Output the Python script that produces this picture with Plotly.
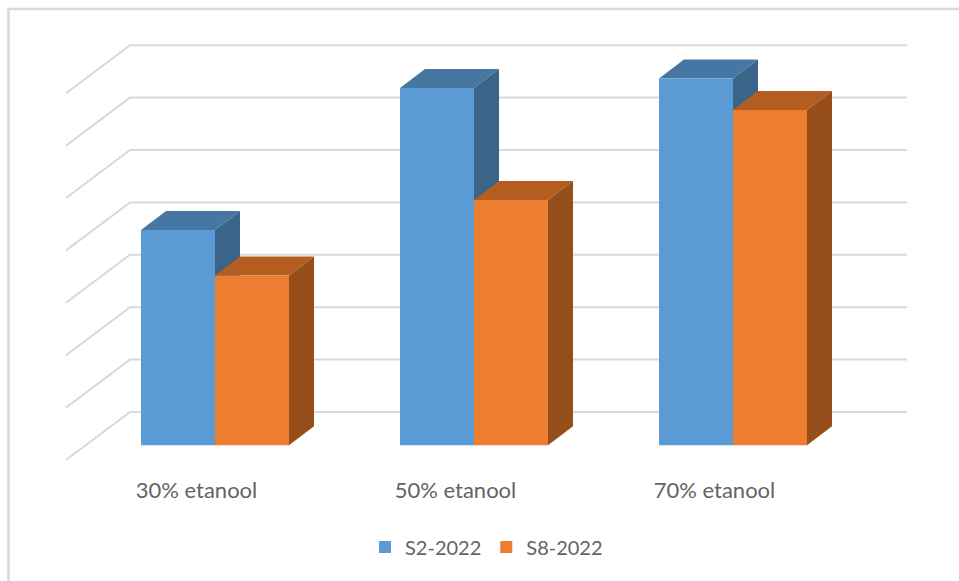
import plotly.graph_objects as go

# ---- data (value axis is hidden, units = gridline steps)
categories = ["30% etanool", "50% etanool", "70% etanool"]
series_names = ["S2-2022", "S8-2022"]
s2_values = [4.11, 6.82, 7.00]
s8_values = [3.24, 4.68, 6.40]
grid_levels = [0, 1, 2, 3, 4, 5, 6, 7]

FRONT = ["#5B9BD5", "#ED7D31"]
TOP = ["#4676A2", "#B55D20"]
SIDE = ["#3A6588", "#964F1B"]
GRID = "#D9D9D9"
TEXT = "#636363"
FONT = "Lato"

W, H = 959, 581
PX_X = 259.0   # pixels per category step
PX_Y = 52.4    # pixels per value unit
X0_PX, Y0_PX = 215.0, 445.3   # category 0 / value 0 position

bar_w = 74.0 / PX_X
bar_dx = 25.0 / PX_X
bar_dy = 19.0 / PX_Y
wall_left = (130.0 - X0_PX) / PX_X
wall_right = (907.0 - X0_PX) / PX_X
wall_lift = 33.3 / PX_Y
diag_dx = 64.0 / PX_X
diag_dy = 48.0 / PX_Y
label_shift = -18.5 / PX_X

x_range = [-X0_PX / PX_X, (W - X0_PX) / PX_X]
y_range = [-(H - Y0_PX) / PX_Y, Y0_PX / PX_Y]

fig = go.Figure()

# back wall gridlines with their left diagonals
gx, gy = [], []
for lv in grid_levels:
    gy_back = lv + wall_lift
    gx += [wall_left - diag_dx, wall_left, wall_right, None]
    gy += [gy_back - diag_dy, gy_back, gy_back, None]
fig.add_trace(go.Scatter(x=gx, y=gy, mode="lines", line=dict(color=GRID, width=2),
                         showlegend=False, hoverinfo="skip"))

# depth faces, below the front bars
all_values = [s2_values, s8_values]
for i in range(len(categories)):
    for s, vals in enumerate(all_values):
        v = vals[i]
        left = i + (s - 1) * bar_w
        right = left + bar_w
        fig.add_trace(go.Scatter(
            x=[left, left + bar_dx, right + bar_dx, right, left],
            y=[v, v + bar_dy, v + bar_dy, v, v],
            mode="lines", fill="toself", fillcolor=TOP[s], line=dict(width=0),
            showlegend=False, hoverinfo="skip"))
        fig.add_trace(go.Scatter(
            x=[right, right + bar_dx, right + bar_dx, right, right],
            y=[v, v + bar_dy, bar_dy, 0, v],
            mode="lines", fill="toself", fillcolor=SIDE[s], line=dict(width=0),
            showlegend=False, hoverinfo="skip"))

# front faces: real bars on an overlaid subplot
xs = list(range(len(categories)))
for s, vals in enumerate(all_values):
    fig.add_trace(go.Bar(x=xs, y=vals, name=series_names[s], width=bar_w,
                         offset=(s - 1) * bar_w, marker=dict(color=FRONT[s], line=dict(width=0)),
                         xaxis="x2", yaxis="y2"))

fig.update_layout(
    width=W, height=H, margin=dict(l=0, r=0, t=0, b=0),
    paper_bgcolor="white", plot_bgcolor="white",
    barmode="overlay",
    font=dict(family=FONT, color=TEXT, size=20),
    xaxis=dict(range=x_range, anchor="free", position=1 - Y0_PX / H,
               tickmode="array", tickvals=[i + label_shift for i in xs], ticktext=categories,
               ticks="outside", ticklen=25, tickcolor="rgba(0,0,0,0)",
               showgrid=False, zeroline=False, showline=False, fixedrange=True,
               tickfont=dict(family=FONT, size=22, color=TEXT)),
    yaxis=dict(range=y_range, visible=False, fixedrange=True),
    xaxis2=dict(range=x_range, overlaying="x", visible=False, fixedrange=True),
    yaxis2=dict(range=y_range, overlaying="y", visible=False, fixedrange=True),
    legend=dict(orientation="h", x=365 / W, xanchor="left", y=1 - 547 / H, yanchor="middle",
                font=dict(family=FONT, size=20, color=TEXT), bgcolor="rgba(0,0,0,0)",
                itemclick=False, itemdoubleclick=False),
    shapes=[
        dict(type="line", xref="paper", yref="paper", x0=8.5 / W, x1=8.5 / W, y0=0, y1=1 - 9 / H,
             line=dict(color=GRID, width=2.5)),
        dict(type="line", xref="paper", yref="paper", x0=7.5 / W, x1=1, y0=1 - 9 / H, y1=1 - 9 / H,
             line=dict(color=GRID, width=2.5)),
    ],
)

fig.write_html("out.html", config={"displayModeBar": False},
               post_script="document.body.style.margin='0';")
